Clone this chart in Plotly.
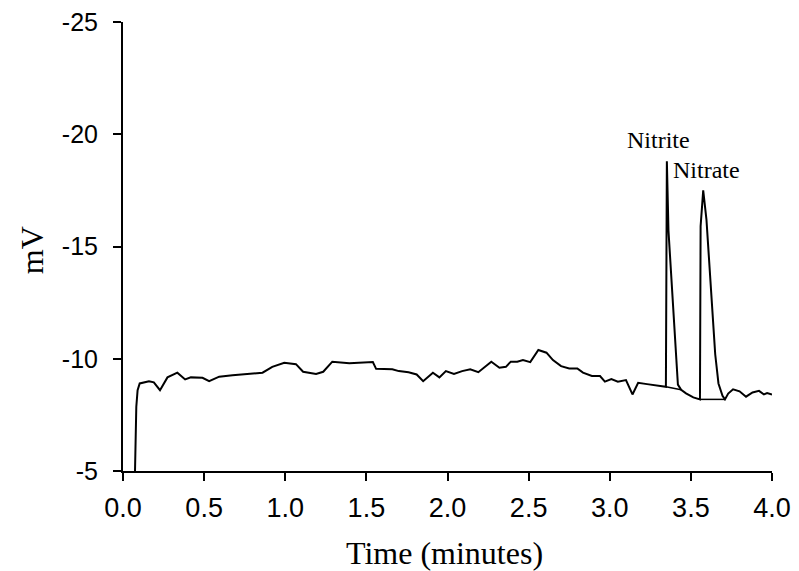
import plotly.graph_objects as go

# Chromatogram trace (time in minutes, signal in mV)
time_min = [0.074, 0.082, 0.090, 0.103, 0.16, 0.19, 0.228, 0.274, 0.335, 0.383, 0.418, 0.49, 0.531,
            0.593, 0.675, 0.757, 0.86, 0.92, 0.994, 1.066, 1.11, 1.19, 1.234, 1.29, 1.395, 1.54,
            1.56, 1.66, 1.70, 1.76, 1.81, 1.85, 1.91, 1.95, 1.99, 2.04, 2.09, 2.14, 2.19, 2.27,
            2.32, 2.36, 2.39, 2.43, 2.465, 2.51, 2.56, 2.61, 2.65, 2.70, 2.75, 2.80, 2.835,
            2.89, 2.94, 2.97, 3.01, 3.05, 3.10, 3.14, 3.175, 3.23, 3.28, 3.33, 3.346,
            3.352, 3.362, 3.42, 3.44, 3.47, 3.515, 3.556, 3.560, 3.576, 3.596, 3.65, 3.67,
            3.695, 3.71, 3.73, 3.76, 3.80, 3.84, 3.88, 3.92, 3.95, 3.97, 4.0]
signal_mv = [-5.0, -7.86, -8.6, -8.9, -9.0, -8.95, -8.6, -9.17, -9.38, -9.08, -9.17, -9.15, -9.0,
             -9.2, -9.26, -9.32, -9.38, -9.64, -9.82, -9.76, -9.42, -9.32, -9.42, -9.87, -9.8, -9.85,
             -9.55, -9.53, -9.45, -9.4, -9.3, -9.0, -9.38, -9.17, -9.45, -9.32, -9.45, -9.53, -9.4, -9.87,
             -9.6, -9.64, -9.87, -9.87, -9.94, -9.85, -10.39, -10.27, -9.94, -9.67, -9.57, -9.57, -9.38,
             -9.23, -9.23, -8.98, -9.1, -8.98, -9.05, -8.41, -8.93, -8.87, -8.82, -8.75, -8.75,
             -18.8, -15.7, -8.85, -8.62, -8.46, -8.28, -8.19, -15.9, -17.5, -16.2, -10.2, -8.9,
             -8.35, -8.19, -8.45, -8.64, -8.55, -8.31, -8.5, -8.57, -8.41, -8.47, -8.41]

# Integration baselines drawn under the two peaks
base_t = [3.346, 3.44, None, 3.556, 3.71]
base_mv = [-8.75, -8.62, None, -8.19, -8.19]

peak_names = ["Nitrite", "Nitrate"]
peak_label_t = [3.302, 3.599]
peak_label_mv = [-19.75, -18.4]

y_ticks = [-25, -20, -15, -10, -5]
x_ticks = [0.0, 0.5, 1.0, 1.5, 2.0, 2.5, 3.0, 3.5, 4.0]

fig = go.Figure()
fig.add_trace(go.Scatter(x=time_min, y=signal_mv, mode="lines",
                         line=dict(color="black", width=2), showlegend=False))
fig.add_trace(go.Scatter(x=base_t, y=base_mv, mode="lines", connectgaps=False,
                         line=dict(color="black", width=1.5), showlegend=False))

for name, tx, ty in zip(peak_names, peak_label_t, peak_label_mv):
    fig.add_annotation(x=tx, y=ty, text=name, showarrow=False,
                       font=dict(family="Liberation Serif, Times New Roman, serif", size=24, color="black"))

fig.add_annotation(xref="paper", yref="paper", x=0.495, y=-0.183, text="Time (minutes)",
                   showarrow=False, yanchor="middle",
                   font=dict(family="Liberation Serif, Times New Roman, serif", size=32, color="black"))
fig.add_annotation(xref="paper", yref="paper", x=-0.14, y=0.492, text="mV", textangle=-90,
                   showarrow=False, xanchor="center", yanchor="middle",
                   font=dict(family="Liberation Serif, Times New Roman, serif", size=32, color="black"))

fig.update_layout(
    width=799, height=571,
    margin=dict(l=123, r=27, t=22, b=100, autoexpand=False),
    plot_bgcolor="white", paper_bgcolor="white",
    xaxis=dict(range=[0, 4], tickvals=x_ticks, ticktext=[f"{v:.1f}" for v in x_ticks],
               automargin=False,
               showgrid=False, zeroline=False, showline=True, linecolor="black", linewidth=2,
               ticks="outside", ticklen=8, tickwidth=2, tickcolor="black", ticklabelstandoff=4,
               tickfont=dict(family="Liberation Sans, Arial, sans-serif", size=27, color="black")),
    yaxis=dict(range=[-5, -25], tickvals=y_ticks, ticktext=[str(v) for v in y_ticks],
               automargin=False,
               showgrid=False, zeroline=False, showline=True, linecolor="black", linewidth=2,
               ticks="outside", ticklen=8, tickwidth=2, tickcolor="black", ticklabelstandoff=10,
               tickfont=dict(family="Liberation Sans, Arial, sans-serif", size=25, color="black")),
)

fig.write_html("out.html")
